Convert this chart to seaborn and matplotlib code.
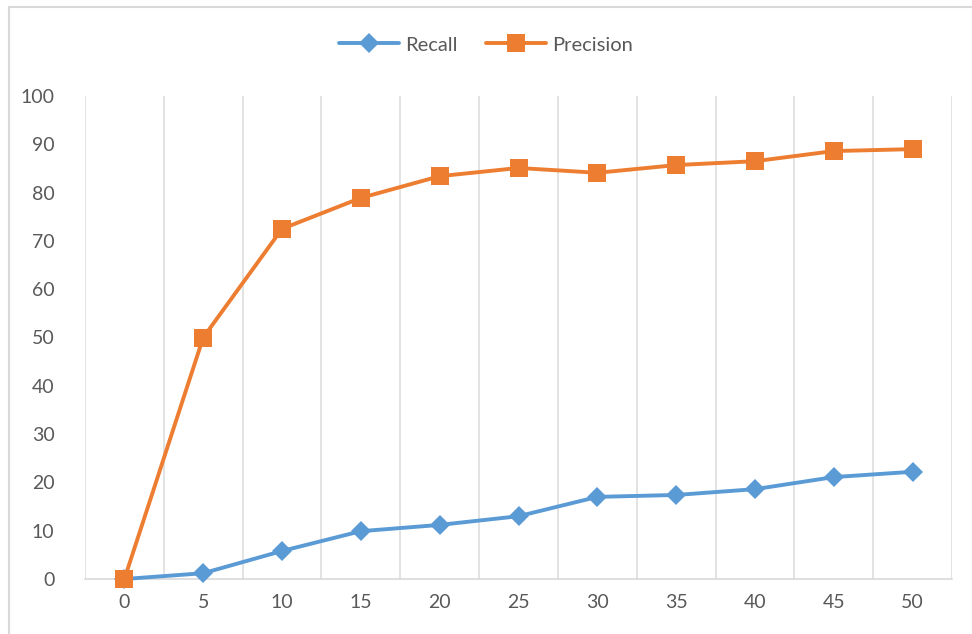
import matplotlib
matplotlib.use("Agg")
import matplotlib.pyplot as plt
import seaborn as sns
import pandas as pd
from matplotlib.patches import Rectangle
from matplotlib.ticker import FixedLocator

k_values = [0, 5, 10, 15, 20, 25, 30, 35, 40, 45, 50]
recall = [0, 1.2, 5.8, 9.9, 11.2, 13.0, 17.0, 17.4, 18.6, 21.1, 22.2]
precision = [0, 50.0, 72.5, 78.9, 83.4, 85.1, 84.1, 85.7, 86.5, 88.6, 89.0]
series_names = ["Recall", "Precision"]
y_ticks = [0, 10, 20, 30, 40, 50, 60, 70, 80, 90, 100]

df = pd.DataFrame({
    "k": k_values * 2,
    "value": recall + precision,
    "series": [series_names[0]] * len(k_values) + [series_names[1]] * len(k_values),
})

sns.set_theme(style="white")
plt.rcParams["font.family"] = ["Lato", "DejaVu Sans"]

fig = plt.figure(figsize=(9.72, 6.34), dpi=100)
ax = fig.add_axes([85 / 972, 55 / 634, (952 - 85) / 972, (579 - 96) / 634])

palette = {"Recall": "#5B9BD5", "Precision": "#ED7D31"}
markers = {"Recall": "D", "Precision": "s"}
sizes = {"Recall": 10.5, "Precision": 13.5}
zorders = {"Recall": 3, "Precision": 4}

for name in series_names:
    sub = df[df["series"] == name]
    sns.lineplot(data=sub, x="k", y="value", ax=ax, color=palette[name],
                 marker=markers[name], markersize=sizes[name], linewidth=2.8,
                 markeredgewidth=0, label=name, zorder=zorders[name], clip_on=False)

ax.set_xlim(-2.5, 52.5)
ax.set_ylim(0, 100)
ax.set_xticks(k_values)
ax.set_xticklabels([str(v) for v in k_values])
ax.set_yticks(y_ticks)
ax.set_yticklabels([str(v) for v in y_ticks])
ax.xaxis.set_minor_locator(FixedLocator([-2.5 + 5 * i for i in range(12)]))
ax.grid(False)
ax.grid(True, which="minor", axis="x", color="#DEDEDE", linewidth=1.2)
ax.tick_params(axis="both", which="both", length=0)
ax.tick_params(axis="y", pad=22, labelsize=14, labelcolor="#595959")
ax.tick_params(axis="x", pad=11, labelsize=14, labelcolor="#595959")
ax.set_xlabel("")
ax.set_ylabel("")
for s in ["top", "left", "right"]:
    ax.spines[s].set_visible(False)
ax.spines["bottom"].set_color("#D9D9D9")
ax.spines["bottom"].set_linewidth(1.2)

leg = ax.legend(loc="center", bbox_to_anchor=(0.5, 1 - 45 / 634), bbox_transform=fig.transFigure,
                ncol=2, frameon=False, fontsize=14.5, handlelength=3.0, columnspacing=1.4,
                handletextpad=0.3)
for t in leg.get_texts():
    t.set_color("#595959")

fig.patches.append(Rectangle((9 / 972, -0.02), 1.05, 1 - 7 / 634 + 0.02, transform=fig.transFigure,
                             fill=False, edgecolor="#D9D9D9", linewidth=1.5, zorder=0))

fig.savefig("out.png", dpi=100, facecolor="white")
